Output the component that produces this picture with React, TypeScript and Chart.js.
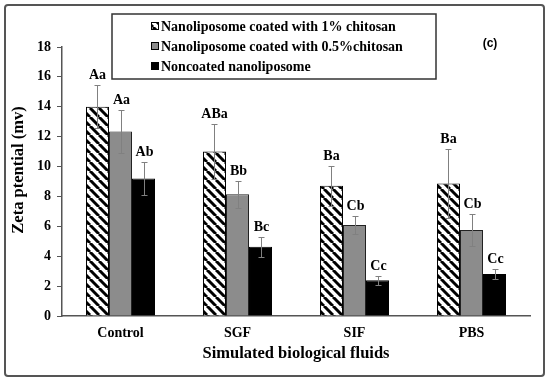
import React, { useEffect, useRef } from "react";
import { Chart, registerables } from "chart.js";

Chart.register(...registerables);

const categories = ["Control", "SGF", "SIF", "PBS"];
const seriesNames = [
  "Nanoliposome coated with 1% chitosan",
  "Nanoliposome coated with 0.5%chitosan",
  "Noncoated nanoliposome",
];
const chitosan1 = [14.0, 11.0, 8.72, 8.86];
const chitosan05 = [12.34, 8.15, 6.09, 5.76];
const noncoated = [9.2, 4.64, 2.39, 2.81];
const err1 = [1.45, 1.83, 1.34, 2.3];
const err05 = [1.43, 0.9, 0.62, 1.07];
const errNon = [1.1, 0.67, 0.31, 0.36];
const letters1 = ["Aa", "ABa", "Ba", "Ba"];
const letters05 = ["Aa", "Bb", "Cb", "Cb"];
const lettersNon = ["Ab", "Bc", "Cc", "Cc"];
const yTicks = [0, 2, 4, 6, 8, 10, 12, 14, 16, 18];
const panelLabel = "(c)";
const xTitle = "Simulated biological fluids";
const yTitle = "Zeta ptential (mv)";

const SERIF = "'Liberation Serif', 'Times New Roman', serif";

function makeHatch(): CanvasPattern | string {
  const n = 9;
  const c = document.createElement("canvas");
  c.width = n;
  c.height = n;
  const g = c.getContext("2d");
  if (!g) return "#fff";
  g.fillStyle = "#fff";
  g.fillRect(0, 0, n, n);
  g.strokeStyle = "#000";
  g.lineWidth = 3;
  for (const k of [-n, 0, n]) {
    g.beginPath();
    g.moveTo(k, 0);
    g.lineTo(k + n, n);
    g.stroke();
  }
  const ctx = document.createElement("canvas").getContext("2d");
  return ctx ? (ctx.createPattern(c, "repeat") as CanvasPattern) : "#fff";
}

export default function App() {
  const ref = useRef<HTMLCanvasElement | null>(null);

  useEffect(() => {
    if (!ref.current) return;
    const hatch = makeHatch();
    const errs = [err1, err05, errNon];
    const letters = [letters1, letters05, lettersNon];

    const overlay = {
      id: "overlay",
      afterDatasetsDraw(chart: any) {
        const ctx = chart.ctx;
        const y = chart.scales.y;
        ctx.save();
        chart.data.datasets.forEach((ds: any, di: number) => {
          const meta = chart.getDatasetMeta(di);
          meta.data.forEach((el: any, i: number) => {
            const v = ds.data[i];
            const e = errs[di][i];
            const x = Math.round(el.x) + 0.5;
            const yt = Math.round(y.getPixelForValue(v + e)) + 0.5;
            const yb = Math.round(y.getPixelForValue(v - e)) + 0.5;
            ctx.strokeStyle = "#808080";
            ctx.lineWidth = 1;
            ctx.beginPath();
            ctx.moveTo(x, yt);
            ctx.lineTo(x, yb);
            ctx.moveTo(x - 3, yt);
            ctx.lineTo(x + 3, yt);
            ctx.moveTo(x - 3, yb);
            ctx.lineTo(x + 3, yb);
            ctx.stroke();
            ctx.fillStyle = "#000";
            ctx.font = `bold 14px ${SERIF}`;
            ctx.textAlign = "center";
            ctx.textBaseline = "middle";
            ctx.fillText(letters[di][i], x, yt - 10);
          });
        });
        ctx.restore();
      },
      afterDraw(chart: any) {
        const ctx = chart.ctx;
        const ca = chart.chartArea;
        ctx.save();
        // legend box
        ctx.fillStyle = "#fff";
        ctx.fillRect(112, 14, 324, 65);
        ctx.strokeStyle = "#333";
        ctx.lineWidth = 1.5;
        ctx.strokeRect(112, 14, 324, 65);
        const rows = [26, 46, 66];
        const fills: any[] = [hatch, "#8c8c8c", "#000"];
        rows.forEach((ry, i) => {
          ctx.fillStyle = fills[i];
          ctx.fillRect(151, ry - 4, 8, 8);
          ctx.strokeStyle = "#000";
          ctx.lineWidth = 1;
          ctx.strokeRect(151.5, ry - 3.5, 7, 7);
          ctx.fillStyle = "#000";
          ctx.font = `bold 14px ${SERIF}`;
          ctx.textAlign = "left";
          ctx.textBaseline = "middle";
          ctx.fillText(seriesNames[i], 161, ry + 1);
        });
        // panel label
        ctx.font = "bold 12px 'Liberation Sans', Arial, sans-serif";
        ctx.textAlign = "center";
        ctx.fillText(panelLabel, 490, 44);
        // axis titles
        ctx.font = `bold 16.5px ${SERIF}`;
        ctx.fillText(xTitle, (ca.left + ca.right) / 2, 354);
        ctx.save();
        ctx.translate(19, 170);
        ctx.rotate(-Math.PI / 2);
        ctx.font = `bold 16.5px ${SERIF}`;
        ctx.fillText(yTitle, 0, 0);
        ctx.restore();
        // frame
        ctx.strokeStyle = "#555";
        ctx.lineWidth = 2;
        ctx.beginPath();
        (ctx as any).roundRect(5, 5, 539, 371, 3);
        ctx.stroke();
        ctx.restore();
      },
    };

    const chart = new Chart(ref.current, {
      type: "bar",
      data: {
        labels: categories,
        datasets: [
          {
            label: seriesNames[0],
            data: chitosan1,
            backgroundColor: hatch as any,
            borderColor: "#000",
            borderWidth: 1,
          },
          {
            label: seriesNames[1],
            data: chitosan05,
            backgroundColor: "#8c8c8c",
            borderColor: "#222",
            borderWidth: 1,
          },
          {
            label: seriesNames[2],
            data: noncoated,
            backgroundColor: "#000",
            borderColor: "#000",
            borderWidth: 1,
          },
        ],
      },
      options: {
        animation: false,
        responsive: false,
        maintainAspectRatio: false,
        layout: { padding: { top: 47, right: 20, bottom: 0, left: 0 } },
        plugins: { legend: { display: false }, tooltip: { enabled: false } },
        datasets: { bar: { categoryPercentage: 0.59, barPercentage: 1 } },
        scales: {
          x: {
            grid: { display: false, tickLength: 0 },
            border: { display: true, color: "#555", width: 1.5 },
            ticks: {
              color: "#000",
              font: { family: SERIF, size: 14, weight: "bold" },
              padding: 9,
            },
            afterFit(s: any) {
              s.height = 67;
            },
          },
          y: {
            min: 0,
            max: 18,
            afterBuildTicks(s: any) {
              s.ticks = yTicks.map((v) => ({ value: v }));
            },
            grid: {
              display: true,
              drawOnChartArea: false,
              drawTicks: true,
              tickLength: 5,
              color: "#555",
            },
            border: { display: true, color: "#555", width: 1.5 },
            ticks: {
              color: "#000",
              font: { family: SERIF, size: 14, weight: "bold" },
              padding: 6,
            },
            afterFit(s: any) {
              s.width = 62;
            },
          },
        },
      } as any,
      plugins: [overlay],
    });
    return () => chart.destroy();
  }, []);

  return (
    <div style={{ position: "absolute", left: 0, top: 0, width: 550, height: 383, background: "#fff" }}>
      <canvas ref={ref} width={550} height={383} style={{ width: 550, height: 383 }} />
    </div>
  );
}
